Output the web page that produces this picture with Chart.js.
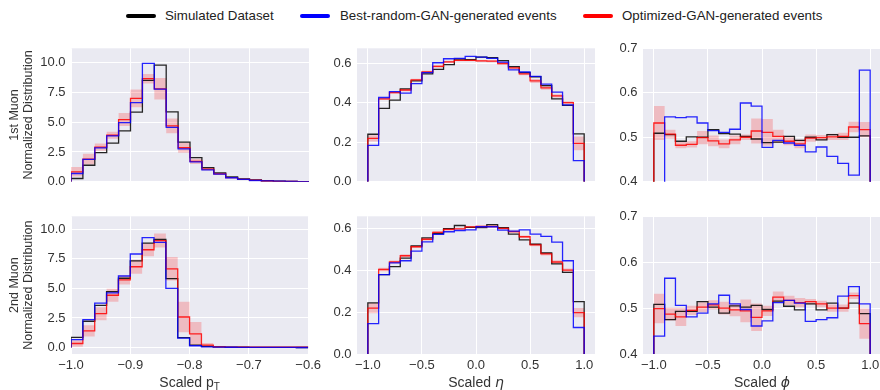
<!DOCTYPE html>
<html>
<head>
<meta charset="utf-8">
<script src="https://cdn.jsdelivr.net/npm/chart.js@4.4.0/dist/chart.umd.min.js"></script>
<style>
  html, body { margin: 0; padding: 0; background: #fff; width: 880px; height: 390px; overflow: hidden; position: relative; }
  body { font-family: "Liberation Sans", Arial, sans-serif; }
  canvas { position: absolute; }
  .sw { position: absolute; top: 14px; height: 4px; width: 30px; border-radius: 2px; }
  .lbl { position: absolute; top: 8px; font-size: 13.3px; line-height: 16px; color: #222; white-space: nowrap; }
</style>
</head>
<body>
<div class="sw" style="left:126px;background:#000"></div><div class="lbl" style="left:165px">Simulated Dataset</div>
<div class="sw" style="left:300px;background:#00f"></div><div class="lbl" style="left:340px">Best-random-GAN-generated events</div>
<div class="sw" style="left:583px;background:#f00"></div><div class="lbl" style="left:622px">Optimized-GAN-generated events</div>

<canvas id="c1" width="325" height="160" style="left:0;top:35px"></canvas>
<canvas id="c2" width="285" height="160" style="left:320px;top:35px"></canvas>
<canvas id="c3" width="295" height="160" style="left:600px;top:35px"></canvas>
<canvas id="c4" width="325" height="187" style="left:0;top:203px"></canvas>
<canvas id="c5" width="285" height="187" style="left:320px;top:203px"></canvas>
<canvas id="c6" width="295" height="187" style="left:600px;top:203px"></canvas>

<script>
// tick labels
const ptTicks = [-1.0, -0.9, -0.8, -0.7, -0.6];
const angTicks = [-1.0, -0.5, 0.0, 0.5, 1.0];
const ptYTicks = [0, 2.5, 5, 7.5, 10];
const etaYTicks = [0, 0.2, 0.4, 0.6];
const phiYTicks = [0.4, 0.5, 0.6, 0.7];

// 1st muon pT (20 bins, -1.0 .. -0.6)
const mu1PtSim  = [0.27, 1.38, 2.44, 3.24, 4.27, 5.84, 8.51, 9.78, 5.87, 3.33, 2.02, 1.19, 0.74, 0.41, 0.24, 0.16, 0.08, 0.04, 0.02, 0.01];
const mu1PtBest = [0.69, 1.88, 2.84, 3.85, 4.96, 6.64, 9.93, 7.77, 4.56, 2.76, 1.67, 1.0, 0.63, 0.33, 0.19, 0.1, 0.07, 0.04, 0.02, 0.01];
const mu1PtOpt  = [0.83, 1.9, 2.9, 3.9, 5.22, 7.0, 8.65, 7.8, 4.68, 2.85, 1.7, 1.05, 0.66, 0.35, 0.2, 0.12, 0.06, 0.03, 0.02, 0.01];
const mu1PtErr  = [0.4, 0.45, 0.3, 0.3, 0.55, 0.75, 0.4, 0.9, 0.62, 0.42, 0.22, 0.12, 0.08, 0.05, 0.04, 0.03, 0.02, 0.02, 0.01, 0.01];

// 1st muon eta (20 bins, -1 .. 1)
const mu1EtaSim  = [0.24, 0.371, 0.413, 0.47, 0.51, 0.546, 0.568, 0.592, 0.62, 0.618, 0.63, 0.628, 0.613, 0.582, 0.552, 0.531, 0.486, 0.419, 0.386, 0.242];
const mu1EtaBest = [0.184, 0.426, 0.456, 0.448, 0.496, 0.552, 0.602, 0.622, 0.624, 0.634, 0.63, 0.624, 0.605, 0.566, 0.555, 0.533, 0.494, 0.453, 0.389, 0.107];
const mu1EtaOpt  = [0.219, 0.419, 0.451, 0.464, 0.515, 0.555, 0.584, 0.606, 0.614, 0.614, 0.611, 0.61, 0.598, 0.576, 0.546, 0.51, 0.475, 0.434, 0.4, 0.194];
const mu1EtaErr  = [0.016, 0.006, 0.006, 0.006, 0.006, 0.007, 0.007, 0.006, 0.005, 0.005, 0.005, 0.005, 0.006, 0.006, 0.007, 0.01, 0.01, 0.008, 0.007, 0.035];

// 1st muon phi
const mu1PhiSim  = [0.509, 0.506, 0.491, 0.501, 0.5, 0.517, 0.508, 0.507, 0.502, 0.496, 0.488, 0.489, 0.502, 0.493, 0.5, 0.494, 0.506, 0.5, 0.5, 0.503];
const mu1PhiBest = [0.38, 0.546, 0.544, 0.546, 0.532, 0.515, 0.511, 0.518, 0.577, 0.57, 0.477, 0.493, 0.487, 0.482, 0.467, 0.478, 0.457, 0.441, 0.415, 0.651];
const mu1PhiOpt  = [0.532, 0.507, 0.482, 0.484, 0.499, 0.492, 0.485, 0.494, 0.5, 0.514, 0.511, 0.502, 0.491, 0.485, 0.498, 0.499, 0.501, 0.502, 0.523, 0.517];
const mu1PhiErr  = [0.038, 0.01, 0.007, 0.007, 0.015, 0.012, 0.01, 0.01, 0.006, 0.028, 0.03, 0.015, 0.009, 0.01, 0.008, 0.006, 0.007, 0.008, 0.012, 0.017];

// 2nd muon pT
const mu2PtSim  = [0.85, 2.22, 3.57, 4.72, 5.86, 7.33, 8.83, 9.15, 5.82, 0.83, 0.2, 0.1, 0.05, 0.03, 0.02, 0.01, 0.01, 0.01, 0.01, 0.0];
const mu2PtBest = [0.66, 2.36, 3.75, 4.62, 6.05, 7.91, 9.3, 8.9, 5.0, 0.8, 0.15, 0.06, 0.04, 0.02, 0.01, 0.01, 0.01, 0.01, 0.01, 0.0];
const mu2PtOpt  = [0.34, 1.4, 2.86, 4.42, 5.72, 6.83, 8.27, 9.05, 6.66, 2.58, 1.16, 0.2, 0.06, 0.03, 0.02, 0.02, 0.02, 0.02, 0.02, 0.03];
const mu2PtErr  = [0.28, 0.48, 0.55, 0.55, 0.4, 0.6, 0.55, 0.6, 1.0, 1.3, 1.0, 0.18, 0.04, 0.02, 0.02, 0.02, 0.02, 0.02, 0.02, 0.03];

// 2nd muon eta
const mu2EtaSim  = [0.245, 0.38, 0.419, 0.46, 0.518, 0.557, 0.577, 0.601, 0.616, 0.607, 0.606, 0.62, 0.606, 0.575, 0.547, 0.526, 0.484, 0.432, 0.391, 0.251];
const mu2EtaBest = [0.146, 0.38, 0.437, 0.447, 0.493, 0.537, 0.573, 0.586, 0.592, 0.595, 0.61, 0.61, 0.594, 0.589, 0.595, 0.575, 0.564, 0.536, 0.447, 0.127];
const mu2EtaOpt  = [0.22, 0.405, 0.441, 0.471, 0.514, 0.55, 0.583, 0.597, 0.6, 0.609, 0.611, 0.611, 0.602, 0.587, 0.562, 0.523, 0.48, 0.441, 0.402, 0.198];
const mu2EtaErr  = [0.025, 0.008, 0.007, 0.007, 0.006, 0.006, 0.006, 0.006, 0.005, 0.005, 0.005, 0.005, 0.005, 0.006, 0.006, 0.007, 0.008, 0.008, 0.008, 0.022];

// 2nd muon phi
const mu2PhiSim  = [0.508, 0.475, 0.493, 0.493, 0.514, 0.502, 0.489, 0.505, 0.502, 0.506, 0.497, 0.515, 0.504, 0.496, 0.509, 0.496, 0.511, 0.5, 0.511, 0.488];
const mu2PhiBest = [0.439, 0.565, 0.506, 0.481, 0.489, 0.509, 0.528, 0.509, 0.497, 0.461, 0.472, 0.512, 0.517, 0.511, 0.471, 0.475, 0.479, 0.526, 0.547, 0.509];
const mu2PhiOpt  = [0.499, 0.487, 0.481, 0.495, 0.502, 0.507, 0.5, 0.496, 0.494, 0.48, 0.494, 0.524, 0.517, 0.512, 0.514, 0.509, 0.5, 0.5, 0.527, 0.466];
const mu2PhiErr  = [0.032, 0.014, 0.02, 0.01, 0.011, 0.01, 0.014, 0.014, 0.025, 0.03, 0.011, 0.012, 0.01, 0.01, 0.006, 0.007, 0.008, 0.008, 0.007, 0.033];

const FONT = '"Liberation Sans", Arial, sans-serif';
const TXT = '#333';

function edges(lo, hi, n) {
  const e = [];
  for (let i = 0; i <= n; i++) e.push(lo + (hi - lo) * i / n);
  return e;
}
const ptEdges = edges(-1.0, -0.6, 20);
const angEdges = edges(-1.0, 1.0, 20);

// step outline like matplotlib histtype='step'
function histPts(ed, v) {
  const p = [{x: ed[0], y: 0}];
  v.forEach((y, i) => p.push({x: ed[i], y: y}));
  p.push({x: ed[v.length], y: v[v.length - 1]});
  p.push({x: ed[v.length], y: 0});
  return p;
}
function bandPts(ed, v, err, s) {
  const p = v.map((y, i) => ({x: ed[i], y: y + s * err[i]}));
  p.push({x: ed[v.length], y: v[v.length - 1] + s * err[err.length - 1]});
  return p;
}

const bgPlugin = {
  id: 'bg',
  beforeDraw(c) {
    const {ctx, chartArea: a} = c;
    ctx.save();
    ctx.fillStyle = '#EAEAF2';
    ctx.fillRect(a.left, a.top, a.width, a.height);
    ctx.restore();
  }
};

// x-axis label with italic / subscript pieces
const xTitlePlugin = {
  id: 'xTitle',
  afterDraw(c, args, o) {
    if (!o.parts) return;
    const ctx = c.ctx, a = c.chartArea;
    const fonts = {
      n: '14px ' + FONT,
      i: 'italic 14px "DejaVu Sans", sans-serif',
      s: '10px ' + FONT
    };
    ctx.save();
    ctx.fillStyle = TXT;
    ctx.textBaseline = 'alphabetic';
    let w = 0;
    o.parts.forEach(p => { ctx.font = fonts[p.f]; p.w = ctx.measureText(p.t).width; w += p.w; });
    let x = (a.left + a.right) / 2 - w / 2;
    o.parts.forEach(p => {
      ctx.font = fonts[p.f];
      ctx.fillText(p.t, x, o.y + (p.f === 's' ? 3 : 0));
      x += p.w;
    });
    ctx.restore();
  }
};

const fmt = v => v.toFixed(1).replace('-', '\u2212');

function panel(id, cfg) {
  const ds = [
    {data: bandPts(cfg.ed, cfg.opt, cfg.err, 1), borderWidth: 0, borderColor: 'rgba(0,0,0,0)', fill: false, order: 4},
    {data: bandPts(cfg.ed, cfg.opt, cfg.err, -1), borderWidth: 0, borderColor: 'rgba(0,0,0,0)', fill: '-1', backgroundColor: 'rgba(255,0,0,0.2)', order: 3},
    {data: histPts(cfg.ed, cfg.sim), borderColor: 'rgba(0,0,0,0.85)', borderWidth: 1.3, order: 2},
    {data: histPts(cfg.ed, cfg.opt), borderColor: 'rgba(255,0,0,0.85)', borderWidth: 1.3, order: 1},
    {data: histPts(cfg.ed, cfg.best), borderColor: 'rgba(0,0,255,0.85)', borderWidth: 1.3, order: 0}
  ];
  ds.forEach(d => { d.stepped = 'before'; d.pointRadius = 0; d.tension = 0; });

  new Chart(document.getElementById(id), {
    type: 'line',
    data: {datasets: ds},
    options: {
      responsive: false,
      animation: false,
      events: [],
      layout: {padding: {top: cfg.pad[0], right: cfg.pad[1], bottom: 0, left: 0}},
      plugins: {
        legend: {display: false},
        tooltip: {enabled: false},
        xTitle: {parts: cfg.xTitle, y: 184}
      },
      scales: {
        x: {
          type: 'linear',
          min: cfg.xr[0], max: cfg.xr[1],
          afterBuildTicks: s => { s.ticks = cfg.xt.map(v => ({value: v})); },
          afterFit: s => { s.height = cfg.xh; },
          grid: {color: '#fff', lineWidth: 1, drawTicks: false},
          border: {display: false},
          ticks: {display: cfg.xLabels, padding: 4, color: TXT, font: {family: FONT, size: 13}, maxRotation: 0, autoSkip: false, callback: fmt}
        },
        y: {
          min: cfg.yr[0], max: cfg.yr[1],
          afterBuildTicks: s => { s.ticks = cfg.yt.map(v => ({value: v})); },
          afterFit: s => { s.width = cfg.yw; },
          grid: {color: '#fff', lineWidth: 1, drawTicks: false},
          border: {display: false},
          ticks: {padding: 5.5, color: TXT, font: {family: FONT, size: 13}, autoSkip: false, callback: fmt},
          title: cfg.yTitle ? {
            display: true, text: cfg.yTitle, color: TXT,
            font: {family: FONT, size: 12.5, lineHeight: 1.07},
            padding: {top: 8.3, bottom: 0}
          } : {display: false}
        }
      }
    },
    plugins: [bgPlugin, xTitlePlugin]
  });
}

panel('c1', {ed: ptEdges, sim: mu1PtSim, best: mu1PtBest, opt: mu1PtOpt, err: mu1PtErr,
  xr: [-1.0, -0.6], yr: [0, 11.2], xt: ptTicks, yt: ptYTicks, xh: 9, yw: 71, pad: [10, 16],
  xLabels: false, yTitle: ['1st Muon', 'Normalized Distribution']});
panel('c2', {ed: angEdges, sim: mu1EtaSim, best: mu1EtaBest, opt: mu1EtaOpt, err: mu1EtaErr,
  xr: [-1.1, 1.1], yr: [0, 0.675], xt: angTicks, yt: etaYTicks, xh: 9, yw: 37, pad: [10, 10],
  xLabels: false});
panel('c3', {ed: angEdges, sim: mu1PhiSim, best: mu1PhiBest, opt: mu1PhiOpt, err: mu1PhiErr,
  xr: [-1.1, 1.1], yr: [0.4, 0.7], xt: angTicks, yt: phiYTicks, xh: 9, yw: 43, pad: [10, 14],
  xLabels: false});
panel('c4', {ed: ptEdges, sim: mu2PtSim, best: mu2PtBest, opt: mu2PtOpt, err: mu2PtErr,
  xr: [-1.0, -0.6], yr: [-0.55, 11.1], xt: ptTicks, yt: ptYTicks, xh: 36, yw: 71, pad: [11, 16],
  xLabels: true, yTitle: ['2nd Muon', 'Normalized Distribution'],
  xTitle: [{t: 'Scaled p', f: 'n'}, {t: 'T', f: 's'}]});
panel('c5', {ed: angEdges, sim: mu2EtaSim, best: mu2EtaBest, opt: mu2EtaOpt, err: mu2EtaErr,
  xr: [-1.1, 1.1], yr: [0, 0.66], xt: angTicks, yt: etaYTicks, xh: 36, yw: 37, pad: [11, 10],
  xLabels: true, xTitle: [{t: 'Scaled ', f: 'n'}, {t: '\u03B7', f: 'i'}]});
panel('c6', {ed: angEdges, sim: mu2PhiSim, best: mu2PhiBest, opt: mu2PhiOpt, err: mu2PhiErr,
  xr: [-1.1, 1.1], yr: [0.4, 0.7], xt: angTicks, yt: phiYTicks, xh: 36, yw: 43, pad: [11, 14],
  xLabels: true, xTitle: [{t: 'Scaled ', f: 'n'}, {t: '\u03D5', f: 'i'}]});
</script>
</body>
</html>
